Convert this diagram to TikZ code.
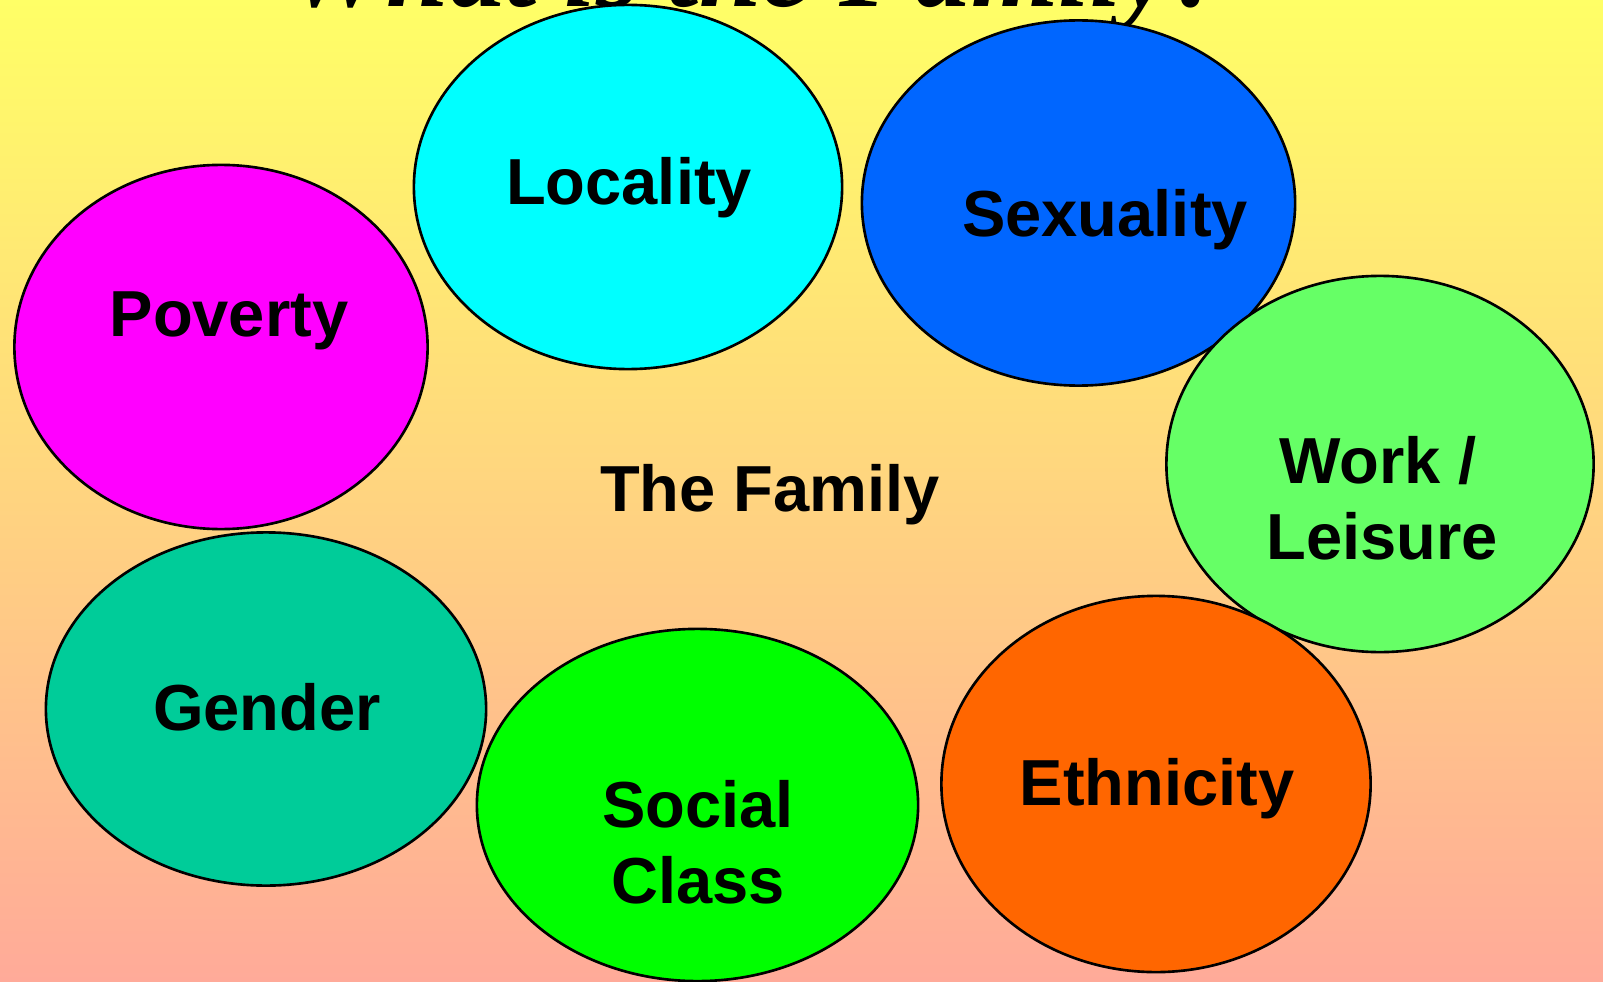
\documentclass[tikz,border=0pt]{standalone}
\usepackage{fontspec}
\setmainfont{Liberation Sans}
\newfontfamily\titlefont{Liberation Serif}
\usepackage{tikz}
\usetikzlibrary{shapes.geometric, positioning}

\definecolor{bgtop}{HTML}{FFFF66}
\definecolor{bgmid}{HTML}{FFE080}
\definecolor{bgbot}{HTML}{FFAA99}
\definecolor{povcol}{HTML}{FF00FF}
\definecolor{loccol}{HTML}{00FFFF}
\definecolor{sexcol}{HTML}{0066FF}
\definecolor{workcol}{HTML}{66FF66}
\definecolor{ethcol}{HTML}{FF6600}
\definecolor{classcol}{HTML}{00FF00}
\definecolor{gendcol}{HTML}{00CC99}

\tikzset{
  blob/.style={ellipse, draw=black, line width=0.75pt, inner sep=0pt, outer sep=0pt},
  topic/.style={font=\fontsize{18.5}{22}\selectfont\bfseries, anchor=base, inner sep=0pt},
}

\begin{document}
\begin{tikzpicture}[x=0.01cm, y=-0.01cm]
    % Page with its background shading
    \useasboundingbox (0,0) rectangle (1603,982);
    \shade[top color=bgtop, middle color=bgmid, bottom color=bgbot] (0,0) rectangle (1603,982);
    \clip (0,0) rectangle (1603,982);

    % Heading, mostly beyond the top edge
    \node[anchor=base, inner sep=0pt, font=\titlefont\fontsize{32}{38}\selectfont\bfseries\itshape] (title) at (757,7) {What is the Family?};

    % Topic ellipses
    \foreach \name/\x/\y/\w/\h/\col in {poverty/221/347/4.13/3.64/povcol, locality/628/187/4.28/3.64/loccol,
        sexuality/1078.5/203/4.33/3.65/sexcol, work/1380/464/4.27/3.76/workcol,
        ethnicity/1156/784/4.29/3.76/ethcol, social/697.5/805/4.41/3.52/classcol,
        gender/266/709/4.40/3.53/gendcol} {
        \node[blob, fill=\col, minimum width=\w cm, minimum height=\h cm] (\name) at (\x,\y) {};
    }

    % Labels
    \node[topic] (family) at (770,511) {The Family};
    \node[topic] (povtext) at (229,337) {Poverty};
    \node[topic] (loctext) at (629,205) {Locality};
    \node[topic] (sextext) at (1105,237) {Sexuality};
    \node[topic] (worktext) at (1378,483) {Work /};
    \node[topic] (leistext) at (1382,559) {Leisure};
    \node[topic] (ethtext) at (1157,805) {Ethnicity};
    \node[topic] (soctext) at (698,827) {Social};
    \node[topic] (classtext) at (698,903) {Class};
    \node[topic] (gendtext) at (267,730) {Gender};
\end{tikzpicture}
\end{document}
